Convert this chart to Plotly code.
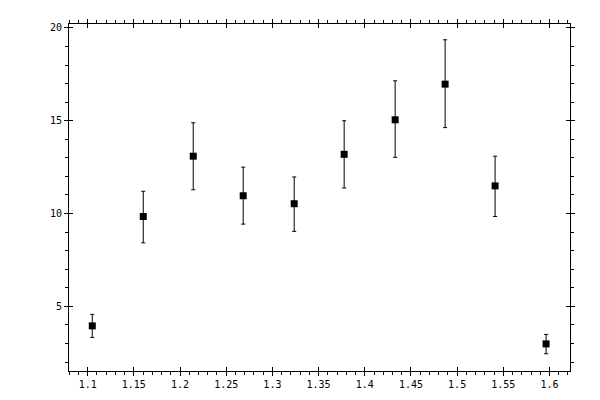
import plotly.graph_objects as go

x_vals = [1.105, 1.1602, 1.2143, 1.2684, 1.3236, 1.3777, 1.4329, 1.4870, 1.5411, 1.5963]
y_vals = [3.95, 9.84, 13.09, 10.96, 10.53, 13.19, 15.05, 16.97, 11.49, 2.98]
err_plus = [0.62, 1.36, 1.80, 1.54, 1.44, 1.81, 2.10, 2.39, 1.60, 0.51]
err_minus = [0.62, 1.42, 1.81, 1.53, 1.49, 1.81, 2.02, 2.34, 1.65, 0.53]

x_range = [1.0798, 1.6222]
y_range = [1.52, 20.21]

fig = go.Figure()
fig.add_trace(go.Scatter(
    x=x_vals, y=y_vals, mode="markers",
    marker=dict(symbol="square", size=7, color="black", line=dict(width=0)),
    error_y=dict(type="data", symmetric=False, array=err_plus, arrayminus=err_minus,
                 color="black", thickness=1, width=2),
    showlegend=False,
))
# invisible trace for overlay axes (inner halves of major ticks)
fig.add_trace(go.Scatter(x=[x_vals[0]], y=[y_vals[0]], xaxis="x2", yaxis="y2",
                         mode="markers", marker=dict(opacity=0), showlegend=False,
                         hoverinfo="skip"))

font = dict(family="DejaVu Sans Mono", size=10, color="black")
common = dict(showgrid=False, zeroline=False, showline=True, linecolor="black",
              linewidth=1, mirror="ticks", ticks="outside", ticklen=4,
              tickcolor="black", tickwidth=1, tickfont=font)

fig.update_layout(
    width=600, height=400,
    margin=dict(l=61, r=38, t=11, b=37),
    paper_bgcolor="white", plot_bgcolor="white",
    xaxis=dict(range=x_range, dtick=0.05, tick0=1.1,
               minor=dict(dtick=0.01, ticks="outside", ticklen=3, tickcolor="black"),
               **common),
    yaxis=dict(range=y_range, dtick=5, tick0=0,
               minor=dict(dtick=1, ticks="outside", ticklen=3, tickcolor="black"),
               **common),
    xaxis2=dict(overlaying="x", matches="x", range=x_range, dtick=0.05, tick0=1.1,
                showgrid=False, zeroline=False, showline=False, mirror="ticks",
                ticks="inside", ticklen=4, tickcolor="black", showticklabels=False,
                side="bottom"),
    yaxis2=dict(overlaying="y", matches="y", range=y_range, dtick=5, tick0=0,
                showgrid=False, zeroline=False, showline=False, mirror="ticks",
                ticks="inside", ticklen=4, tickcolor="black", showticklabels=False,
                side="left"),
)

fig.write_html("out.html")
